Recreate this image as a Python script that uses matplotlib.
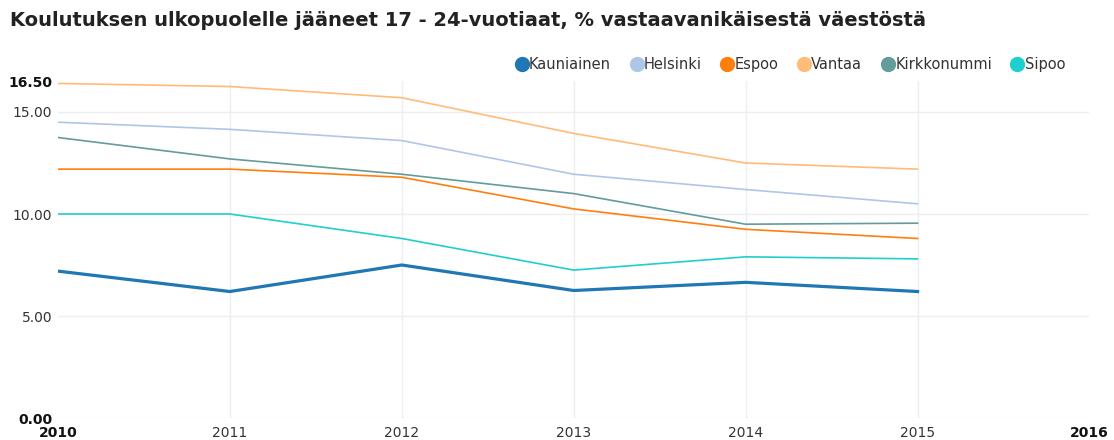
import matplotlib.pyplot as plt
from matplotlib.lines import Line2D

years = [2010, 2011, 2012, 2013, 2014, 2015]
names = ["Kauniainen", "Helsinki", "Espoo", "Vantaa", "Kirkkonummi", "Sipoo"]
kauniainen = [7.2, 6.2, 7.5, 6.25, 6.65, 6.2]
helsinki = [14.5, 14.15, 13.6, 11.95, 11.2, 10.5]
espoo = [12.2, 12.2, 11.8, 10.25, 9.25, 8.8]
vantaa = [16.4, 16.25, 15.7, 13.95, 12.5, 12.2]
kirkkonummi = [13.75, 12.7, 11.95, 11.0, 9.5, 9.55]
sipoo = [10.0, 10.0, 8.8, 7.25, 7.9, 7.8]
series = [kauniainen, helsinki, espoo, vantaa, kirkkonummi, sipoo]
colors = ["#1f77b4", "#aec7e8", "#ff7f0e", "#ffbb78", "#649c99", "#1fcfcf"]
widths = [2.3, 1.2, 1.2, 1.2, 1.2, 1.2]

yticks = [0, 5, 10, 15, 16.5]
ylabels = ["0.00", "5.00", "10.00", "15.00", "16.50"]
xticks = [2010, 2011, 2012, 2013, 2014, 2015, 2016]

fig = plt.figure(figsize=(11.14, 4.4), dpi=100)
ax = fig.add_axes([0.052, 0.05, 0.926, 0.765])

for vals, c, w in zip(series, colors, widths):
    ax.plot(years, vals, color=c, lw=w, solid_joinstyle="round")

ax.set_xlim(2010, 2016)
ax.set_ylim(0, 16.5)
ax.set_xticks(xticks)
ax.set_xticklabels([str(x) for x in xticks], fontsize=10, color="#333333")
ax.set_yticks(yticks)
ax.set_yticklabels(ylabels, fontsize=10, color="#333333")
for lab in [ax.get_xticklabels()[0], ax.get_xticklabels()[-1],
            ax.get_yticklabels()[0], ax.get_yticklabels()[-1]]:
    lab.set_fontweight("bold")
    lab.set_color("#111111")
ax.tick_params(length=0, pad=4)
ax.tick_params(axis="x", pad=6)
for s in ax.spines.values():
    s.set_visible(False)
for y in [0, 5, 10, 15]:
    ax.axhline(y, color="#eeeeee", lw=1, zorder=0)
for x in xticks[1:-1]:
    ax.axvline(x, color="#eeeeee", lw=1, zorder=0)

fig.text(0.009, 0.953, "Koulutuksen ulkopuolelle jääneet 17 - 24-vuotiaat, % vastaavanikäisestä väestöstä",
         fontsize=14, fontweight="bold", color="#222222", va="center")

handles = [Line2D([], [], marker="o", ls="none", color=c, markersize=10) for c in colors]
fig.legend(handles, names, loc="center right", bbox_to_anchor=(0.968, 0.853), ncol=6,
           frameon=False, fontsize=10.5, handlelength=0.6, handletextpad=0.2,
           columnspacing=1.45, labelcolor="#333333")

fig.savefig("out.png", dpi=100)
